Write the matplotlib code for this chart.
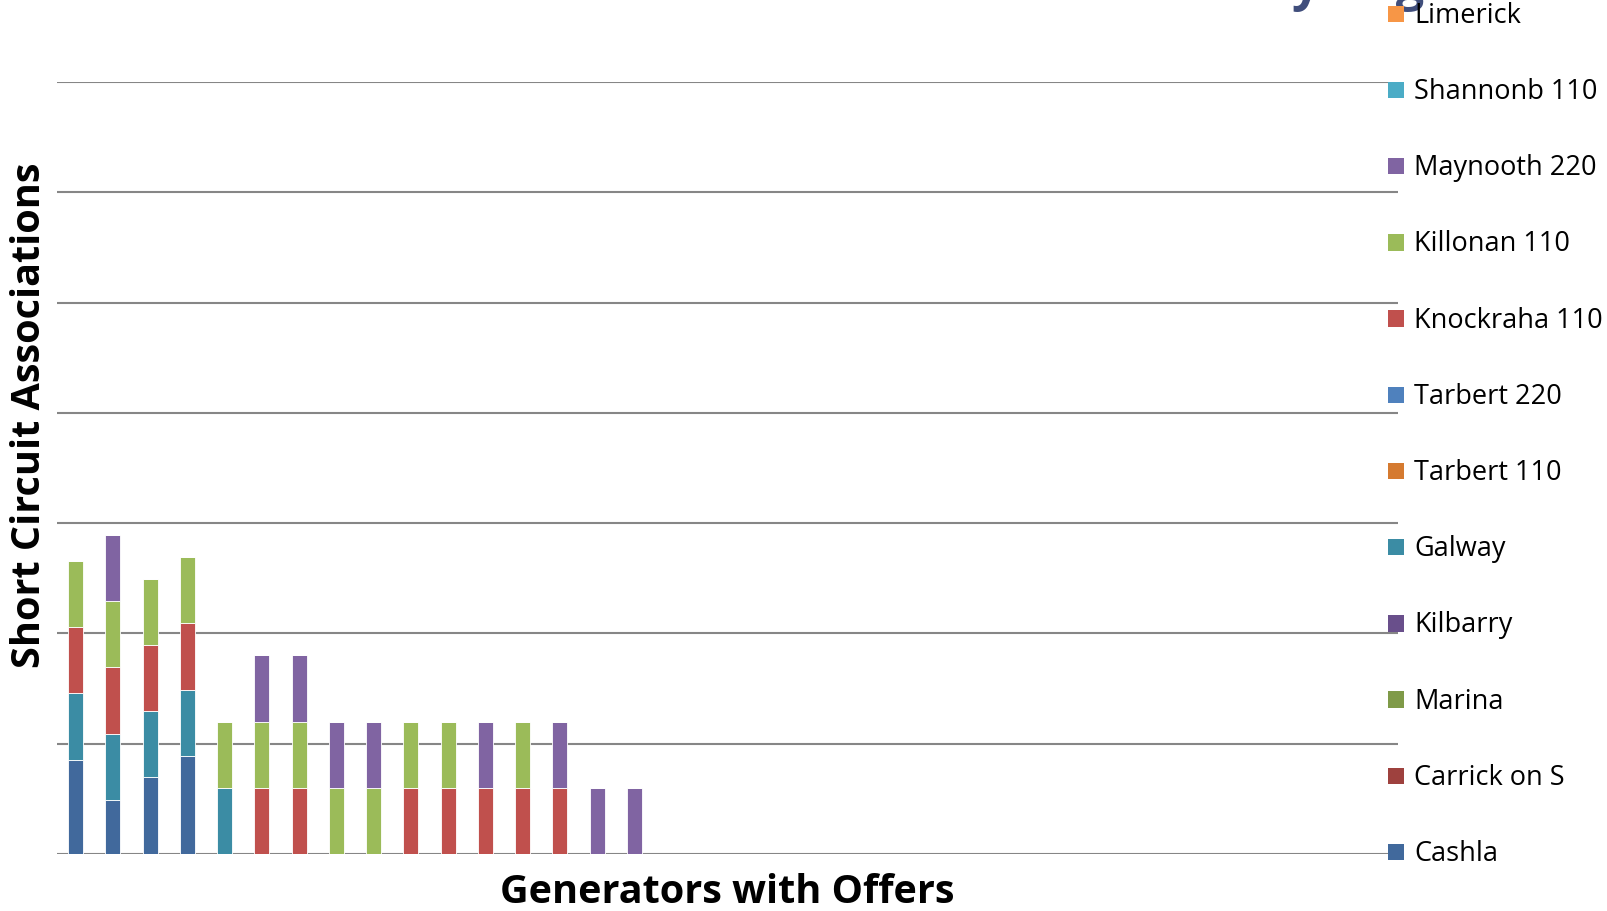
import numpy as np
import matplotlib
matplotlib.use('Agg')
import matplotlib.pyplot as plt
from matplotlib.patches import Rectangle

plt.rcParams['font.family'] = ['Open Sans', 'DejaVu Sans']

# Generators (36 categories, only the first 16 have associations)
generators = [f'G{i}' for i in range(1, 37)]

# Series in stacking order (bottom to top)
series_names = ['Cashla', 'Carrick on S', 'Marina', 'Kilbarry', 'Galway',
                'Tarbert 110', 'Tarbert 220', 'Knockraha 110', 'Killonan 110',
                'Maynooth 220', 'Shannonb 110', 'Limerick']
series_colors = ['#41699C', '#9E413E', '#7F9A48', '#694F8B', '#3B8CA4',
                 '#D57A30', '#4F81BD', '#C0504D', '#9BBB59',
                 '#8064A2', '#4BACC6', '#F79646']

cashla = [4.28, 2.46, 3.47, 4.45]
galway = [3, 3, 3, 3, 3]
knockraha = [3, 3, 3, 3, 0, 3, 3, 0, 0, 3, 3, 3, 3, 3]
killonan = [3, 3, 3, 3, 3, 3, 3, 3, 3, 3, 3, 0, 3]
maynooth = [0, 3, 0, 0, 0, 3, 3, 3, 3, 0, 0, 3, 0, 3, 3, 3]

def pad(vals):
    return np.array(vals + [0] * (len(generators) - len(vals)), dtype=float)

values = {name: np.zeros(len(generators)) for name in series_names}
values['Cashla'] = pad(cashla)
values['Galway'] = pad(galway)
values['Knockraha 110'] = pad(knockraha)
values['Killonan 110'] = pad(killonan)
values['Maynooth 220'] = pad(maynooth)

W, H = 1608, 911
fig = plt.figure(figsize=(W / 100, H / 100), dpi=100)
ax = fig.add_axes([0.0354, 0.0626, 0.834, 0.8474])

x = np.arange(len(generators))
bottom = np.zeros(len(generators))
for name, col in zip(series_names, series_colors):
    v = values[name]
    ax.bar(x, v, width=0.4, bottom=bottom, color=col,
           edgecolor='white', linewidth=0.6, zorder=3)
    bottom += v

ax.set_xlim(-0.5, len(generators) - 0.5)
ax.set_ylim(0, 35)
ax.set_yticks(np.arange(0, 36, 5))
ax.yaxis.grid(True, color='#868686', linewidth=1.5, zorder=0)
ax.tick_params(left=False, bottom=False, labelleft=False, labelbottom=False)
ax.set_xticks(x)
for s in ax.spines.values():
    s.set_visible(False)

ax.set_xlabel('Generators with Offers', fontsize=28.5, fontweight='bold', labelpad=14)
ax.set_ylabel('Short Circuit Associations', fontsize=28.5, fontweight='bold')
ax.yaxis.set_label_coords(-0.006, 0.568)

# title sits mostly above the figure edge
fig.text(0.935, 1.0, 'Generator Short Circuit Associations by Region',
         ha='right', va='baseline', fontsize=36, fontweight='bold', color='#404E7C')

# legend, drawn by hand: bottom entry first, fixed row pitch (pixels)
row_pitch = 76.2
y0 = 852
box = 16.5
for i, (name, col) in enumerate(zip(series_names, series_colors)):
    yc = y0 - i * row_pitch
    fig.add_artist(Rectangle((1388 / W, 1 - (yc + box / 2) / H), box / W, box / H,
                             transform=fig.transFigure, facecolor=col,
                             edgecolor='none', zorder=5))
    fig.text(1414 / W, 1 - (yc + 2) / H, name, ha='left', va='center',
             fontsize=19.5, color='black', zorder=5)

fig.savefig('out.png', dpi=100)
